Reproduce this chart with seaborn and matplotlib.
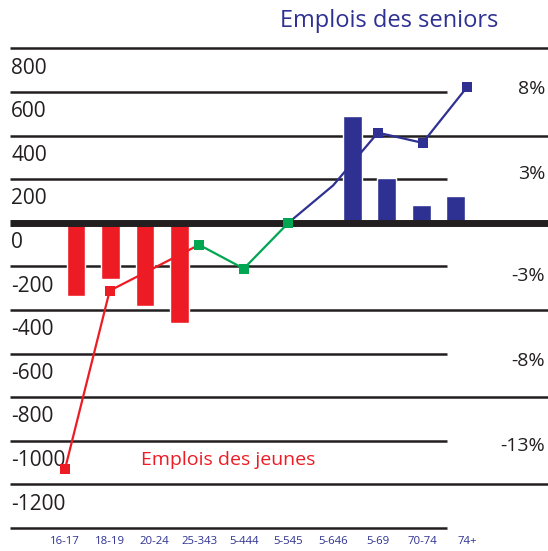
import numpy as np
import pandas as pd
import matplotlib.pyplot as plt
import seaborn as sns

sns.set_style('white')
plt.rcParams['font.family'] = ['Open Sans', 'DejaVu Sans']

# données
ages = ['16-17', '18-19', '20-24', '25-343', '5-444', '5-545', '5-646', '5-69', '70-74', '74+']
emplois_jeunes = [-338, -260, -383, -458]      # barres rouges (4 premières tranches)
emplois_seniors = [491, 206, 82, 123]          # barres bleues (4 dernières tranches)
variation_pct = [-14.5, -4.0, np.nan, -1.3, -2.7, 0.0, 2.2, 5.3, 4.7, 8.0]
graduations = list(range(800, -1201, -200))
graduations_pct = [8, 3, -3, -8, -13]

ROUGE = '#ed1c24'
BLEU = '#2e3192'
VERT = '#00a651'
NOIR = '#231f20'

fig = plt.figure(figsize=(5.48, 5.51), dpi=100)
pos = [10 / 548, 23 / 551, 538 / 548, 479.7 / 551]
ax = fig.add_axes(pos)
ax2 = fig.add_axes(pos, facecolor='none')

# barres : 12 emplacements, jeunes au début, seniors à la fin
n_slots = 12
barres = pd.DataFrame({
    'slot': list(range(len(emplois_jeunes))) + list(range(n_slots - len(emplois_seniors), n_slots)),
    'emplois': emplois_jeunes + emplois_seniors,
    'groupe': ['jeunes'] * len(emplois_jeunes) + ['seniors'] * len(emplois_seniors),
})
sns.barplot(data=barres, x='slot', y='emplois', hue='groupe',
            palette={'jeunes': ROUGE, 'seniors': BLEU}, native_scale=True,
            dodge=False, width=0.55, saturation=1, legend=False,
            errorbar=None, ax=ax, zorder=2)
ax.set_xlim(-1.913, 13.68)
ax.set_ylim(-1400, 800)

# lignes horizontales, une longue sur deux
for v in range(800, -1401, -200):
    if v == 0:
        ax.axhline(0, color=NOIR, lw=5, zorder=3, clip_on=False, solid_capstyle='butt')
    elif (v // 200) % 2 == 0:
        ax.axhline(v, color=NOIR, lw=1.8, zorder=1, clip_on=False, solid_capstyle='butt')
    else:
        ax.axhline(v, xmin=0, xmax=0.812, color=NOIR, lw=1.8, zorder=1,
                   clip_on=False, solid_capstyle='butt')

for v in graduations:
    ax.annotate(str(v), xy=(0, v), xycoords=('axes fraction', 'data'),
                xytext=(0.8, -14.2), textcoords='offset points',
                ha='left', va='center', fontsize=15, color=NOIR)

ax.set_xticks([])
ax.set_yticks([])
ax.set_xlabel('')
ax.set_ylabel('')
sns.despine(ax=ax, left=True, bottom=True)

# courbe des variations en %
df = pd.DataFrame({'age': range(len(ages)), 'variation': variation_pct})
segments = [(0, 3, ROUGE, [0, 1]), (5, 9, BLEU, slice(2, None)), (3, 5, VERT, None)]
for a, b, couleur, marques in segments:
    sub = df.iloc[a:b + 1].dropna()
    sns.lineplot(data=sub, x='age', y='variation', color=couleur, lw=1.6,
                 marker='s', markersize=6.5, markeredgewidth=0,
                 markevery=marques, ax=ax2)

k = 0.01283
ax2.set_xlim(-1.23, 10.805)
ax2.set_ylim(-1400 * k, 800 * k)
ax2.set_xticks(range(len(ages)), labels=ages)
ax2.tick_params(axis='x', length=0, pad=6, labelsize=8.2, labelcolor=BLEU)
ax2.yaxis.tick_right()
ax2.set_yticks(graduations_pct, labels=[f'{p}%' for p in graduations_pct], ha='right')
ax2.tick_params(axis='y', length=0, pad=-2, labelsize=14, labelcolor=NOIR)
ax2.set_xlabel('')
ax2.set_ylabel('')
for s in ax2.spines.values():
    s.set_visible(False)

fig.text(389 / 548, 1 - 21 / 551, 'Emplois des seniors', ha='center', va='center',
         color=BLEU, fontsize=17)
fig.text(228.5 / 548, 1 - 460 / 551, 'Emplois des jeunes', ha='center', va='center',
         color=ROUGE, fontsize=14)

fig.savefig('out.png', dpi=100, facecolor='white')
